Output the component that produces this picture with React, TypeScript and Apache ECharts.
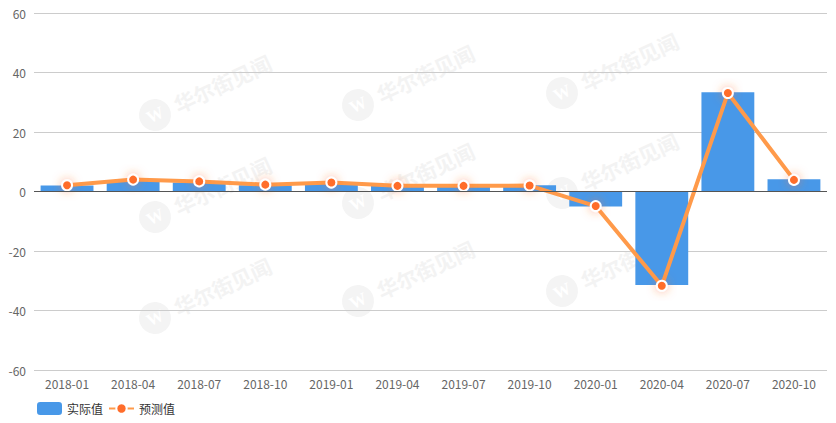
import React, { useEffect, useRef } from "react";
import * as echarts from "echarts";

const categories = [
  "2018-01", "2018-04", "2018-07", "2018-10",
  "2019-01", "2019-04", "2019-07", "2019-10",
  "2020-01", "2020-04", "2020-07", "2020-10",
];
const actualValues = [2.0, 3.5, 3.0, 2.1, 2.9, 2.0, 2.1, 2.1, -5.0, -31.4, 33.4, 4.1];
const forecastValues = [2.1, 4.0, 3.4, 2.3, 3.0, 1.9, 1.9, 2.0, -4.9, -31.7, 33.1, 3.9];
const yTicks = { min: -60, max: 60, interval: 20 };

const watermarkSpots = [
  [155, 115], [155, 217], [155, 318],
  [358, 105], [358, 203], [358, 301],
  [562, 93], [562, 193], [562, 291],
];

export default function App() {
  const ref = useRef<HTMLDivElement>(null);
  useEffect(() => {
    if (!ref.current) return;
    document.body.style.margin = "0";
    const chart = echarts.init(ref.current, undefined, { renderer: "svg" });
    const font = "'Noto Sans CJK SC', 'Microsoft YaHei', sans-serif";
    const graphics = watermarkSpots.map(([x, y]) => ({
      type: "group",
      x,
      y,
      rotation: (25 * Math.PI) / 180,
      silent: true,
      z: 0,
      children: [
        { type: "circle", shape: { cx: 0, cy: 0, r: 16 }, style: { fill: "#f4f4f4" } },
        {
          type: "text",
          x: 0,
          y: 0,
          style: {
            text: "W",
            fill: "#ffffff",
            font: "bold 17px serif",
            align: "center",
            verticalAlign: "middle",
          },
        },
        {
          type: "text",
          x: 22,
          y: 0,
          style: {
            text: "华尔街见闻",
            fill: "#f3f3f3",
            font: `bold 21px ${font}`,
            align: "left",
            verticalAlign: "middle",
          },
        },
      ],
    }));
    chart.setOption({
      animation: false,
      textStyle: { fontFamily: font },
      graphic: graphics,
      grid: { left: 34, right: 9, top: 13, bottom: 53, containLabel: false },
      legend: {
        left: 32,
        top: 397,
        itemWidth: 25,
        itemHeight: 13,
        itemGap: 5,
        textStyle: { color: "#333", fontSize: 12 },
        data: [
          { name: "实际值", icon: "roundRect" },
          { name: "预测值" },
        ],
      },
      xAxis: {
        type: "category",
        data: categories,
        axisTick: { show: false },
        axisLine: { show: false },
        axisLabel: { color: "#666", fontSize: 12, margin: 7 },
      },
      yAxis: {
        type: "value",
        min: yTicks.min,
        max: yTicks.max,
        interval: yTicks.interval,
        axisLine: { show: false },
        axisTick: { show: false },
        axisLabel: { color: "#666", fontSize: 12 },
        splitLine: { lineStyle: { color: "#cccccc" } },
      },
      series: [
        {
          name: "实际值",
          type: "bar",
          data: actualValues,
          barCategoryGap: "20%",
          itemStyle: { color: "#4898e8" },
          z: 2,
          markLine: {
            silent: true,
            symbol: "none",
            label: { show: false },
            lineStyle: { color: "#555", width: 1, type: "solid" },
            data: [{ yAxis: 0 }],
          },
        },
        {
          name: "预测值",
          type: "line",
          data: forecastValues,
          symbol: "circle",
          symbolSize: 10,
          z: 3,
          lineStyle: { color: "#ff9a4a", width: 4 },
          itemStyle: {
            color: "#ff6d2b",
            borderColor: "#ffffff",
            borderWidth: 2,
            shadowBlur: 10,
            shadowColor: "rgba(255,110,40,0.5)",
          },
        },
      ],
    });
    return () => chart.dispose();
  }, []);
  return <div ref={ref} style={{ width: 836, height: 423 }} />;
}
